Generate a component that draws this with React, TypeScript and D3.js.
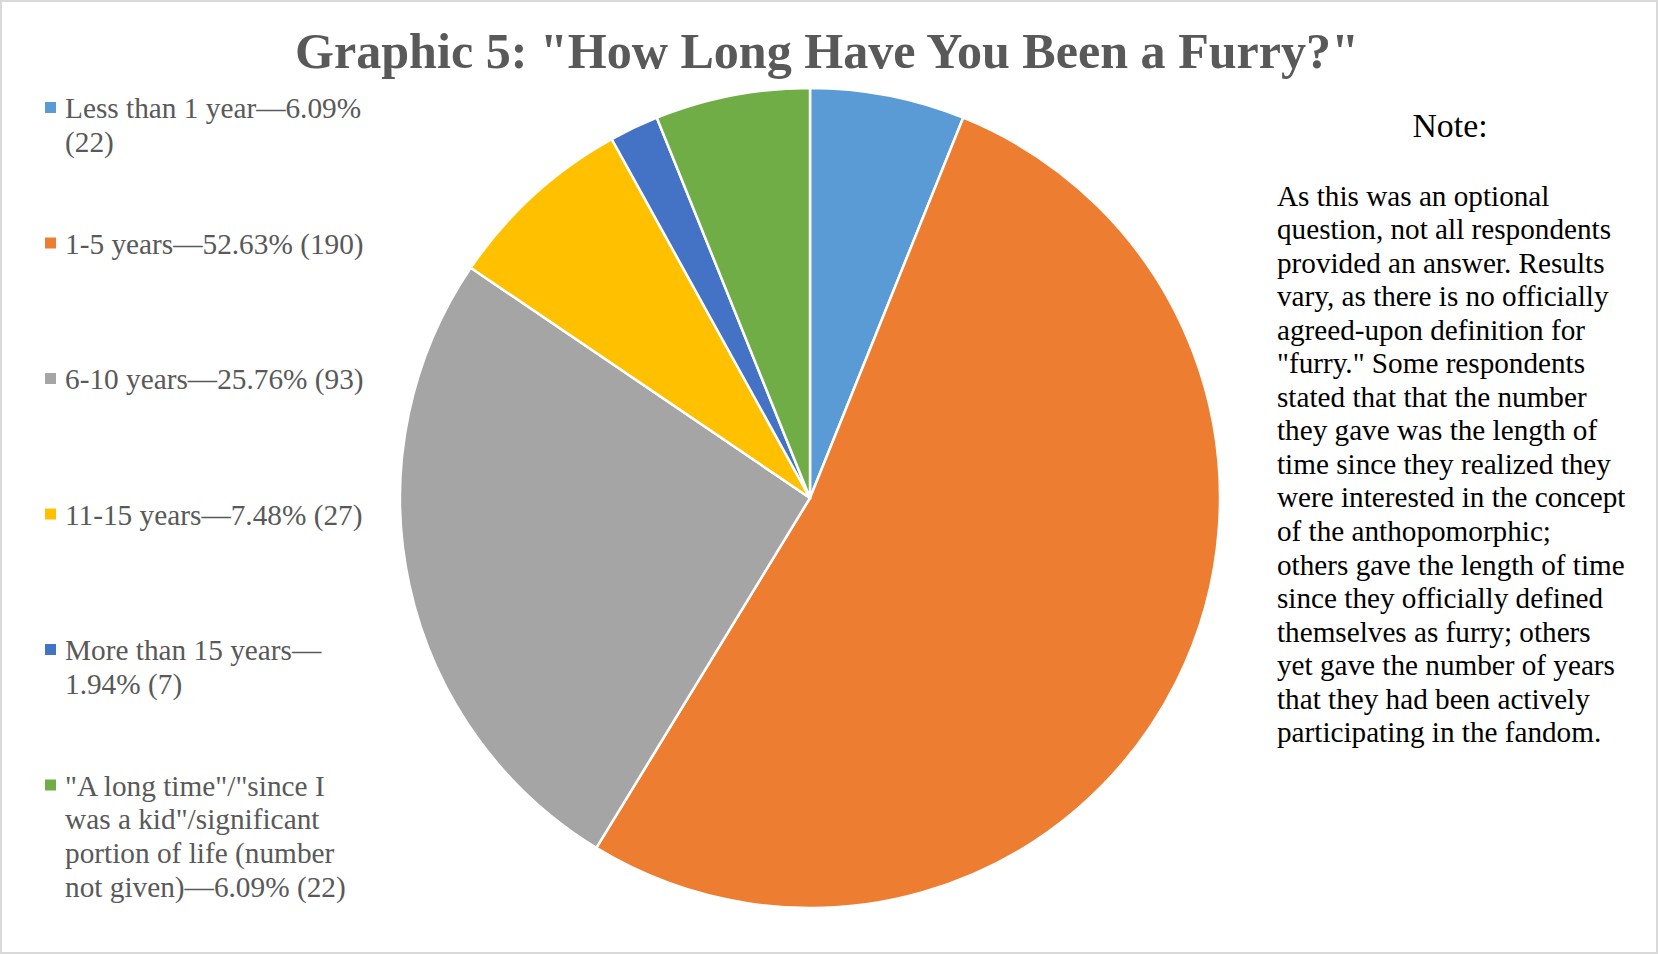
import React from "react";
import * as d3 from "d3";

const title = 'Graphic 5: "How Long Have You Been a Furry?"';
const categories = [
  "Less than 1 year",
  "1-5 years",
  "6-10 years",
  "11-15 years",
  "More than 15 years",
  '"A long time"/"since I was a kid"/significant portion of life (number not given)',
];
const counts = [22, 190, 93, 27, 7, 22];
const colors = ["#5B9BD5", "#ED7D31", "#A5A5A5", "#FFC000", "#4472C4", "#70AD47"];
const legendLines = [
  ["Less than 1 year\u20146.09%", "(22)"],
  ["1-5 years\u201452.63% (190)"],
  ["6-10 years\u201425.76% (93)"],
  ["11-15 years\u20147.48% (27)"],
  ["More than 15 years\u2014", "1.94% (7)"],
  ['"A long time"/"since I', 'was a kid"/significant', "portion of life (number", "not given)\u20146.09% (22)"],
];
const noteTitle = "Note:";
const noteLines = [
  "As this was an optional",
  "question, not all respondents",
  "provided an answer. Results",
  "vary, as there is no officially",
  "agreed-upon definition for",
  '"furry." Some respondents',
  "stated that that the number",
  "they gave was the length of",
  "time since they realized they",
  "were interested in the concept",
  "of the anthopomorphic;",
  "others gave the length of time",
  "since they officially defined",
  "themselves as furry; others",
  "yet gave the number of years",
  "that they had been actively",
  "participating in the fandom.",
];

const W = 1658;
const H = 954;
const FONT = '"Liberation Serif", "Times New Roman", serif';

export default function App() {
  const cx = 810;
  const cy = 498;
  const r = 410;
  const data = categories.map((c, i) => ({ c, v: counts[i], color: colors[i] }));
  const pie = d3
    .pie<{ c: string; v: number; color: string }>()
    .sort(null)
    .value((d) => d.v)
    .startAngle(0)
    .endAngle(2 * Math.PI);
  const arcs = pie(data);
  const arc = d3.arc<d3.PieArcDatum<{ c: string; v: number; color: string }>>().innerRadius(0).outerRadius(r);

  const legendX = 65;
  const legendY0 = 118;
  const legendStep = 135.5;
  const legendLH = 33.8;

  const noteX = 1277;
  const noteY0 = 205.5;
  const noteLH = 33.55;

  return (
    <svg
      width={W}
      height={H}
      style={{ position: "absolute", left: 0, top: 0, background: "#fff" }}
      fontFamily={FONT}
    >
      <rect x={1} y={1} width={W - 2} height={H - 2} fill="#fff" stroke="#d9d9d9" strokeWidth={2} />
      <text x={827} y={68} textAnchor="middle" fontSize={50.1} fontWeight="bold" fill="#595959">
        {title}
      </text>
      <g transform={`translate(${cx},${cy})`}>
        {arcs.map((a, i) => (
          <path key={i} d={arc(a) || ""} fill={a.data.color} stroke="#fff" strokeWidth={2.5} strokeLinejoin="round" />
        ))}
      </g>
      <g>
        {legendLines.map((lines, i) => {
          const by = legendY0 + i * legendStep;
          return (
            <g key={i}>
              <rect x={45} y={by - 16} width={11} height={11} fill={colors[i]} />
              <text x={legendX} y={by} fontSize={29.3} fill="#595959">
                {lines.map((ln, j) => (
                  <tspan key={j} x={legendX} y={by + j * legendLH}>
                    {ln}
                  </tspan>
                ))}
              </text>
            </g>
          );
        })}
      </g>
      <text x={1450} y={137} textAnchor="middle" fontSize={33.8} fill="#000">
        {noteTitle}
      </text>
      <text fontSize={29.2} fill="#000">
        {noteLines.map((ln, j) => (
          <tspan key={j} x={noteX} y={noteY0 + j * noteLH}>
            {ln}
          </tspan>
        ))}
      </text>
    </svg>
  );
}
